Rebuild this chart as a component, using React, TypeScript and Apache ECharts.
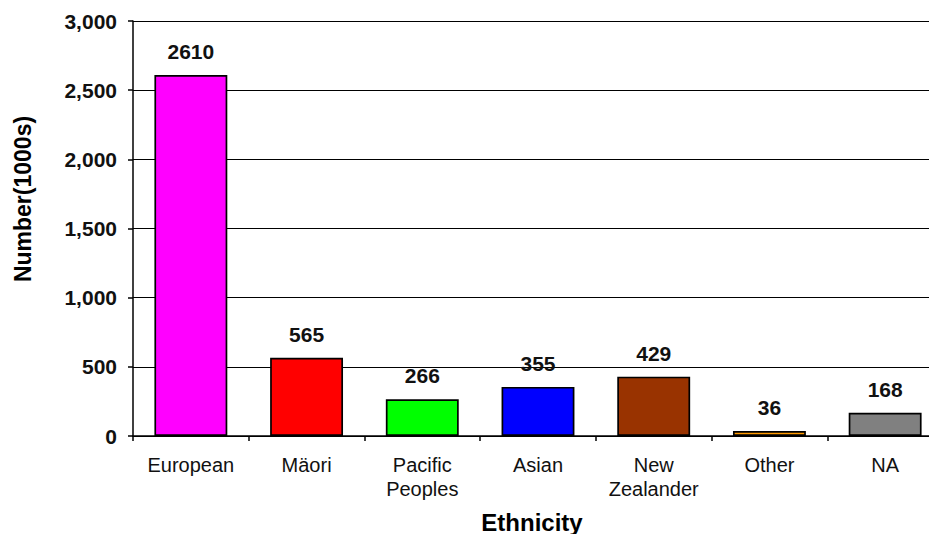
import React, { useEffect, useRef } from "react";
import * as echarts from "echarts";

const categories = ["European", "Mäori", "Pacific\nPeoples", "Asian", "New\nZealander", "Other", "NA"];
const values = [2610, 565, 266, 355, 429, 36, 168];
const barColors = ["#FF00FF", "#FF0000", "#00FF00", "#0000FF", "#993300", "#FF9900", "#808080"];
const yTicks = { min: 0, max: 3000, interval: 500 };
const yTitle = "Number(1000s)";
const xTitle = "Ethnicity";

const FONT = "Arial, 'Liberation Sans', sans-serif";

export default function App() {
  const ref = useRef<HTMLDivElement>(null);
  useEffect(() => {
    if (!ref.current) return;
    const chart = echarts.init(ref.current, undefined, { renderer: "svg" });
    chart.setOption({
      animation: false,
      backgroundColor: "#ffffff",
      grid: { left: 133, top: 21, right: 2, bottom: 98, containLabel: false },
      xAxis: {
        type: "category",
        data: categories,
        axisLine: { show: true, lineStyle: { color: "#000", width: 1.5 } },
        axisTick: { show: true, length: 5, lineStyle: { color: "#000", width: 1.5 }, alignWithLabel: false },
        axisLabel: {
          color: "#111",
          fontFamily: FONT,
          fontSize: 20,
          lineHeight: 24,
          margin: 17,
          interval: 0,
        },
      },
      yAxis: {
        type: "value",
        min: yTicks.min,
        max: yTicks.max,
        interval: yTicks.interval,
        axisLine: { show: true, lineStyle: { color: "#000", width: 1.5 } },
        axisTick: { show: true, length: 5, lineStyle: { color: "#000", width: 1.5 } },
        splitLine: { show: true, lineStyle: { color: "#000", width: 1.2 } },
        axisLabel: {
          color: "#111",
          fontFamily: FONT,
          fontWeight: "bold",
          fontSize: 21,
          margin: 16,
          formatter: (v: number) => v.toLocaleString("en-US"),
        },
      },
      series: [
        {
          type: "bar",
          data: values.map((v, i) => ({ value: v, itemStyle: { color: barColors[i] } })),
          barCategoryGap: "37%",
          itemStyle: { borderColor: "#000", borderWidth: 1.7 },
          label: {
            show: true,
            position: "top",
            distance: 13,
            color: "#111",
            fontFamily: FONT,
            fontWeight: "bold",
            fontSize: 21,
          },
        },
      ],
      graphic: [
        {
          type: "text",
          x: 23,
          y: 199,
          rotation: Math.PI / 2,
          style: {
            text: yTitle,
            fill: "#000",
            font: `bold 23px ${FONT}`,
            align: "center",
            verticalAlign: "middle",
          },
        },
        {
          type: "text",
          x: 532,
          y: 522,
          style: {
            text: xTitle,
            fill: "#000",
            font: `bold 24px ${FONT}`,
            align: "center",
            verticalAlign: "middle",
          },
        },
      ],
    });
    return () => chart.dispose();
  }, []);
  return (
    <div style={{ position: "absolute", left: 0, top: 0, width: 929, height: 534, overflow: "hidden" }}>
      <div ref={ref} style={{ width: 945, height: 534 }} />
    </div>
  );
}
